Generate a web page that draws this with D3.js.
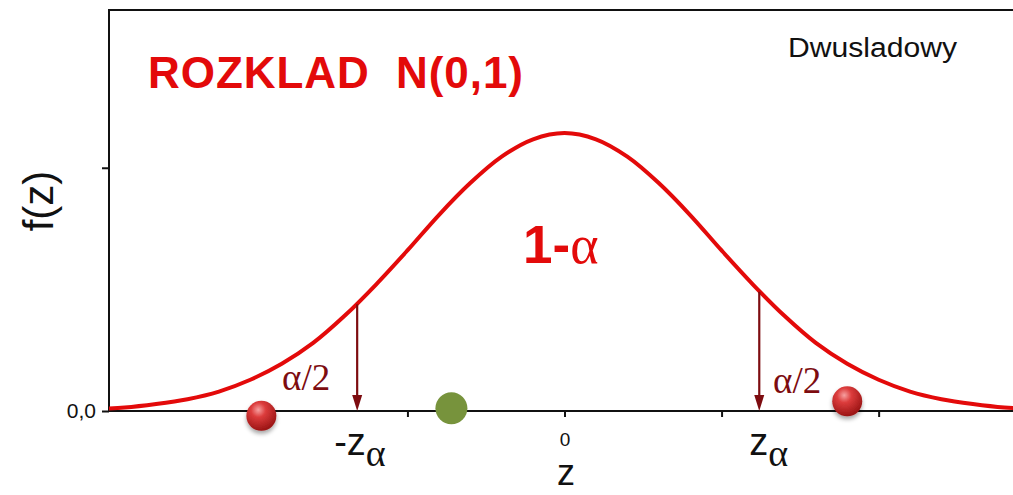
<!DOCTYPE html>
<html>
<head>
<meta charset="utf-8">
<script src="https://cdn.jsdelivr.net/npm/d3@7"></script>
<style>
  html, body { margin: 0; padding: 0; background: #fff; }
  svg { display: block; }
</style>
</head>
<body>
<svg id="chart" width="1013" height="495"></svg>
<script>
// ---- data ----
const zValues = [-3.0,-2.8,-2.6,-2.4,-2.2,-2.0,-1.8,-1.6,-1.4,-1.2,-1.0,-0.8,-0.6,-0.4,-0.2,0.0,0.2,0.4,0.6,0.8,1.0,1.2,1.4,1.6,1.8,2.0,2.2,2.4,2.6,2.8,3.0];
const densityValues = [0.003,0.005,0.010,0.017,0.028,0.045,0.068,0.098,0.137,0.182,0.231,0.282,0.328,0.366,0.391,0.400,0.391,0.366,0.328,0.282,0.231,0.182,0.137,0.098,0.068,0.045,0.028,0.017,0.010,0.005,0.003];
const xTickValues = [-2, -1, 0, 1, 2];
const xTickLabels = ["", "", "0", "", ""];
const yTickValues = [0, 0.35];
const yTickLabels = ["0,0", ""];
const criticalZ = [-1.32, 1.24];
const criticalLabels = ["-z", "z"];
const ballZ = [-1.93, -0.72, 1.80];
const ballF = [-0.007, 0.004, 0.014];
const ballKind = ["red", "green", "red"];
const titleText = "ROZKLAD  N(0,1)";
const legendText = "Dwusladowy";
const xTitle = "z";
const yTitle = "f(z)";

// ---- layout ----
const svg = d3.select("#chart");
const pLeft = 109, pRight = 1020, pTop = 10, pBottom = 411;
const x = d3.scaleLinear().domain([-2.9, 2.9]).range([pLeft, pRight]);
const y = d3.scaleLinear().domain([0, 0.577]).range([pBottom, pTop]);

const red = "#e30a0a";
const darkRed = "#7d0c10";
const sans = "Arial, 'Liberation Sans', sans-serif";
const serif = "'Times New Roman', 'Liberation Serif', serif";

const defs = svg.append("defs");
defs.append("clipPath").attr("id", "plotclip")
  .append("rect").attr("x", pLeft).attr("y", pTop).attr("width", pRight - pLeft).attr("height", pBottom - pTop + 2);
const rg = defs.append("radialGradient").attr("id", "ballgrad")
  .attr("cx", "40%").attr("cy", "30%").attr("r", "70%");
rg.append("stop").attr("offset", "0%").attr("stop-color", "#f6a0a0");
rg.append("stop").attr("offset", "35%").attr("stop-color", "#dc3c3c");
rg.append("stop").attr("offset", "100%").attr("stop-color", "#9a1414");
const sh = defs.append("filter").attr("id", "shadow").attr("x", "-50%").attr("y", "-50%").attr("width", "200%").attr("height", "200%");
sh.append("feDropShadow").attr("dx", 0).attr("dy", 3).attr("stdDeviation", 2).attr("flood-color", "#000").attr("flood-opacity", 0.35);

// frame (left & top; right side is off-canvas)
svg.append("path")
  .attr("d", `M${pLeft},${pBottom} L${pLeft},${pTop} L${pRight},${pTop}`)
  .attr("fill", "none").attr("stroke", "#111").attr("stroke-width", 2);

// x axis
const xAxis = svg.append("g").attr("transform", `translate(0,${pBottom})`)
  .call(d3.axisBottom(x).tickValues(xTickValues).tickSize(6).tickPadding(16)
    .tickFormat((d, i) => xTickLabels[i]));
xAxis.attr("font-size", null);
xAxis.select(".domain").attr("stroke", "#111").attr("stroke-width", 2).attr("d", `M${pLeft},0H${pRight}`);
xAxis.selectAll(".tick line").attr("stroke", "#111").attr("stroke-width", 2);
xAxis.selectAll(".tick text").attr("font-family", sans).attr("font-size", 19).attr("fill", "#111");

// y axis
const yAxis = svg.append("g").attr("transform", `translate(${pLeft},0)`)
  .call(d3.axisLeft(y).tickValues(yTickValues).tickSize(7).tickPadding(6)
    .tickFormat((d, i) => yTickLabels[i]));
yAxis.attr("font-size", null);
yAxis.select(".domain").remove();
yAxis.selectAll(".tick line").attr("stroke", "#111").attr("stroke-width", 2);
yAxis.selectAll(".tick text").attr("font-family", sans).attr("font-size", 21).attr("fill", "#111");

// curve
const pts = zValues.map((z, i) => [z, densityValues[i]]);
svg.append("path").datum(pts)
  .attr("clip-path", "url(#plotclip)")
  .attr("d", d3.line().x(d => x(d[0])).y(d => y(d[1])).curve(d3.curveCatmullRom))
  .attr("fill", "none").attr("stroke", red).attr("stroke-width", 4);

// density lookup from data (linear between read points)
function fAt(z) {
  const i = d3.bisectRight(zValues, z) - 1;
  const t = (z - zValues[i]) / (zValues[i + 1] - zValues[i]);
  return densityValues[i] + t * (densityValues[i + 1] - densityValues[i]);
}

// critical arrows (shaft + head)
svg.selectAll(".crit").data(criticalZ).join("line")
  .attr("x1", d => x(d)).attr("x2", d => x(d))
  .attr("y1", d => y(fAt(d)) + 1).attr("y2", pBottom - 12)
  .attr("stroke", darkRed).attr("stroke-width", 2.2);
svg.selectAll(".crithead").data(criticalZ).join("path")
  .attr("d", d => `M${x(d) - 5},${pBottom - 16} L${x(d) + 5},${pBottom - 16} L${x(d)},${pBottom} Z`)
  .attr("fill", darkRed);

// critical labels
const critText = svg.selectAll(".critlab").data(criticalZ).join("text")
  .attr("x", (d, i) => x(d) + (i === 0 ? -23 : -10))
  .attr("y", 455)
  .attr("font-family", sans).attr("font-size", 38).attr("fill", "#111");
critText.append("tspan").text((d, i) => criticalLabels[i]);
critText.append("tspan").attr("dy", 11).attr("font-family", serif)
  .attr("font-size", 38).text("α");

// alpha/2 labels
svg.selectAll(".a2").data(criticalZ).join("text")
  .attr("x", (d, i) => i === 0 ? 282 : 773)
  .attr("y", (d, i) => i === 0 ? 390 : 393)
  .attr("font-family", serif).attr("font-size", 37)
  .attr("fill", darkRed).text("α/2");

// balls
svg.selectAll(".ball").data(ballZ).join("circle")
  .attr("cx", d => x(d)).attr("cy", (d, i) => y(ballF[i]))
  .attr("r", (d, i) => ballKind[i] === "green" ? 16 : 15)
  .attr("fill", (d, i) => ballKind[i] === "green" ? "#77933c" : "url(#ballgrad)")
  .attr("filter", (d, i) => ballKind[i] === "green" ? null : "url(#shadow)");

// title
svg.append("text").attr("x", 148).attr("y", 88)
  .attr("font-family", sans).attr("font-weight", "bold")
  .attr("font-size", 44).attr("fill", red).attr("xml:space", "preserve")
  .attr("textLength", 375).attr("lengthAdjust", "spacing")
  .text(titleText);

// 1-alpha
const oneA = svg.append("text").attr("x", 523).attr("y", 263).attr("fill", red);
oneA.append("tspan").attr("font-family", sans).attr("font-weight", "bold").attr("font-size", 53).text("1-");
oneA.append("tspan").attr("font-family", serif).attr("font-size", 54).text("α");

// legend text
svg.append("text").attr("x", 788).attr("y", 57)
  .attr("font-family", sans).attr("font-size", 27).attr("fill", "#111")
  .attr("textLength", 169).attr("lengthAdjust", "spacingAndGlyphs")
  .text(legendText);

// axis titles
svg.append("text").attr("x", 566).attr("y", 485).attr("text-anchor", "middle")
  .attr("font-family", sans).attr("font-size", 36).attr("fill", "#111")
  .text(xTitle);
svg.append("text").attr("transform", "translate(53,201) rotate(-90)").attr("text-anchor", "middle")
  .attr("font-family", sans).attr("font-size", 42).attr("fill", "#111")
  .text(yTitle);
</script>
</body>
</html>
